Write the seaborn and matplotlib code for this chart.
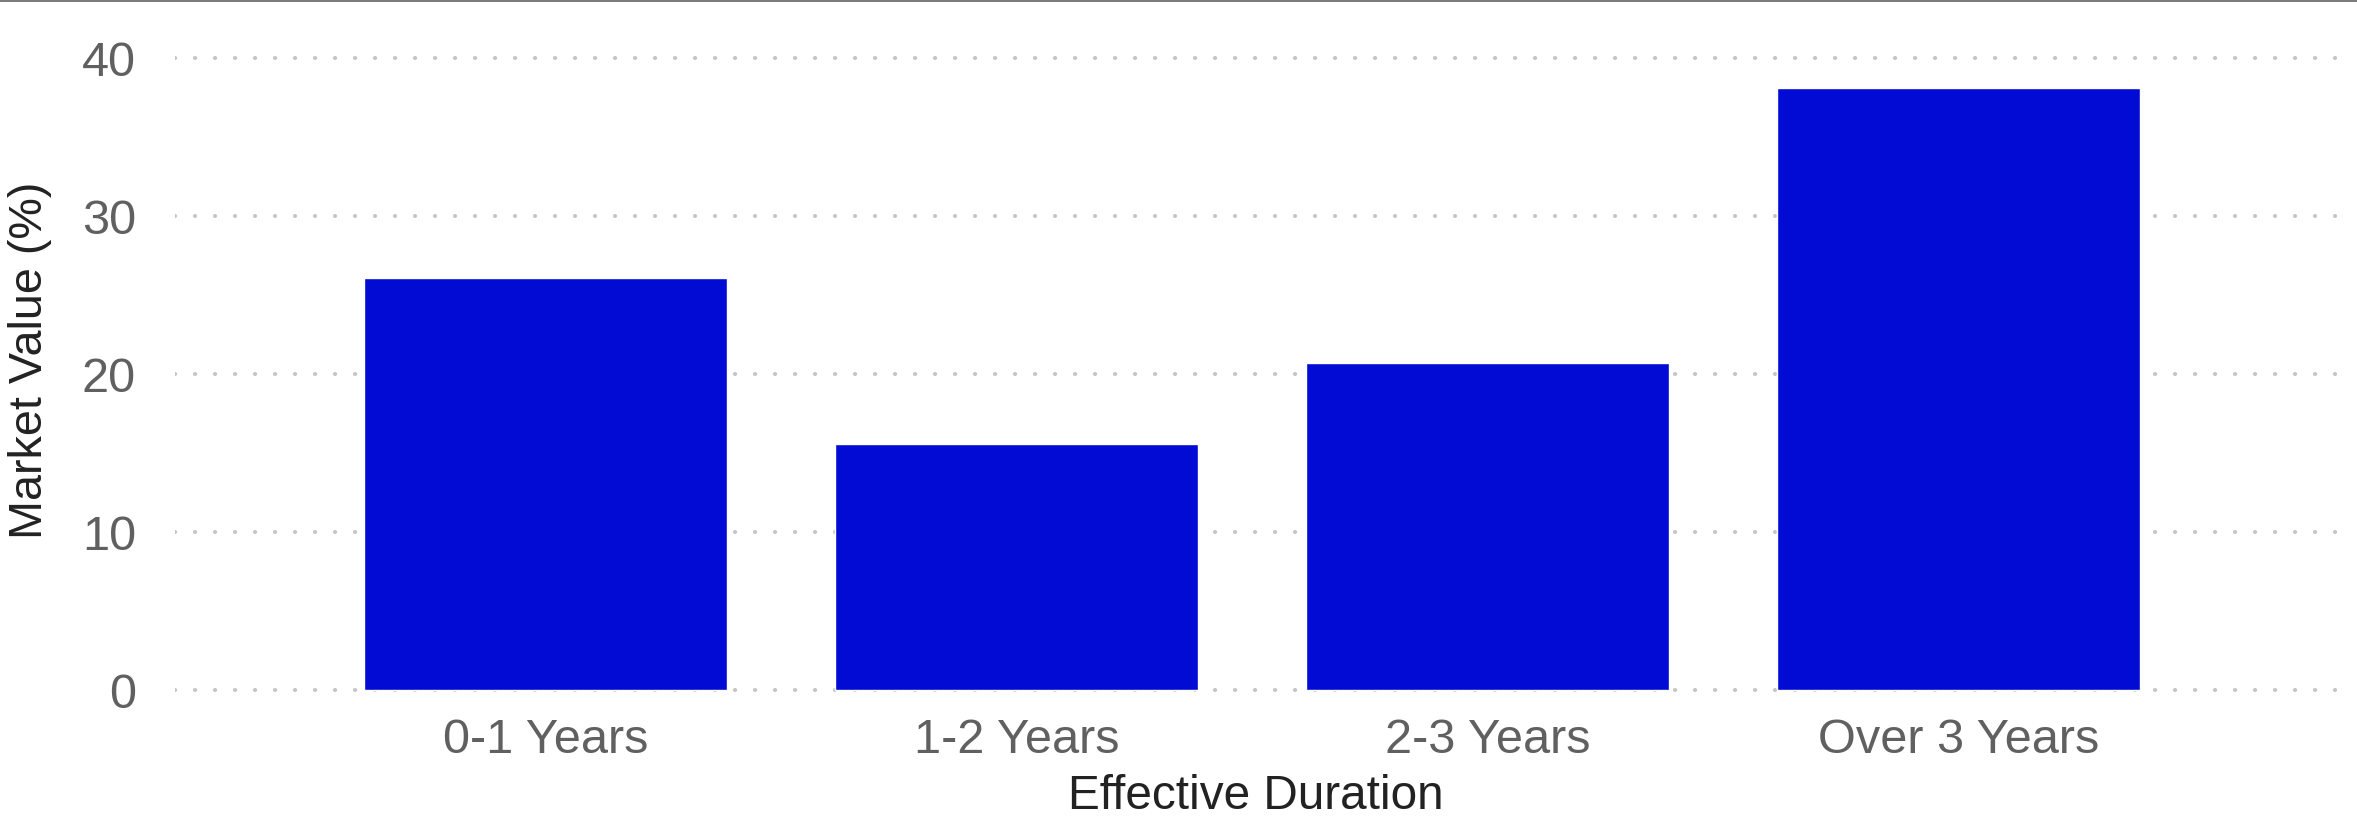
import matplotlib
matplotlib.use("Agg")
import matplotlib.pyplot as plt
from matplotlib.lines import Line2D
import seaborn as sns
import pandas as pd

# Portfolio breakdown by effective duration
durations = ["0-1 Years", "1-2 Years", "2-3 Years", "Over 3 Years"]
market_value = [26.1, 15.6, 20.7, 38.1]
y_ticks = [0, 10, 20, 30, 40]

df = pd.DataFrame({"Effective Duration": durations, "Market Value (%)": market_value})

sns.set_theme(style="white")
plt.rcParams["font.family"] = ["Liberation Sans", "DejaVu Sans"]
plt.rcParams["lines.scale_dashes"] = False

W, H, DPI = 2357, 819, 100
PT = 72 / DPI  # points per pixel
fig = plt.figure(figsize=(W / DPI, H / DPI), dpi=DPI)

# axes placement in pixels (left, right, top, bottom)
left_px, right_px = 175, 2337
ymin, ymax = -1.0, 41.0
px_per_unit = (690 - 58.3) / 40.0
bottom_px = 690 + (0 - ymin) * px_per_unit
top_px = 58.3 - (ymax - 40) * px_per_unit
ax = fig.add_axes([left_px / W, 1 - bottom_px / H,
                   (right_px - left_px) / W, (bottom_px - top_px) / H])

sns.barplot(data=df, x="Effective Duration", y="Market Value (%)",
            color="#020BD3", saturation=1, width=0.77, ax=ax, zorder=3)

ax.set_xlim(-0.786, 3.803)
ax.set_ylim(ymin, ymax)
ax.set_yticks(y_ticks)
ax.set_yticklabels([str(t) for t in y_ticks])

# dotted horizontal gridlines: round dots about 4 px wide, 20 px apart
for t in y_ticks:
    ax.axhline(t, color="#c6c6c6", lw=4.2 * PT, dashes=(0.05 * PT, 20 * PT - 0.05 * PT),
               dash_capstyle="round", zorder=1)

for s in ax.spines.values():
    s.set_visible(False)

ax.tick_params(axis="y", length=0, pad=28, labelsize=35, labelcolor="#606060")
ax.tick_params(axis="x", length=0, pad=9, labelsize=35, labelcolor="#606060")

ax.set_xlabel("Effective Duration", fontsize=34.4, color="#222222", labelpad=8)
ax.set_ylabel("")
fig.text(30 / W, 1 - 360 / H, "Market Value (%)", rotation=90,
         ha="center", va="center", fontsize=33.7, color="#222222")

# thin rule along the top edge of the figure
fig.add_artist(Line2D([0, 1], [1 - 0.8 / H, 1 - 0.8 / H], transform=fig.transFigure,
                      color="#555555", lw=1.1))

fig.savefig("out.png", dpi=DPI, facecolor="white")
